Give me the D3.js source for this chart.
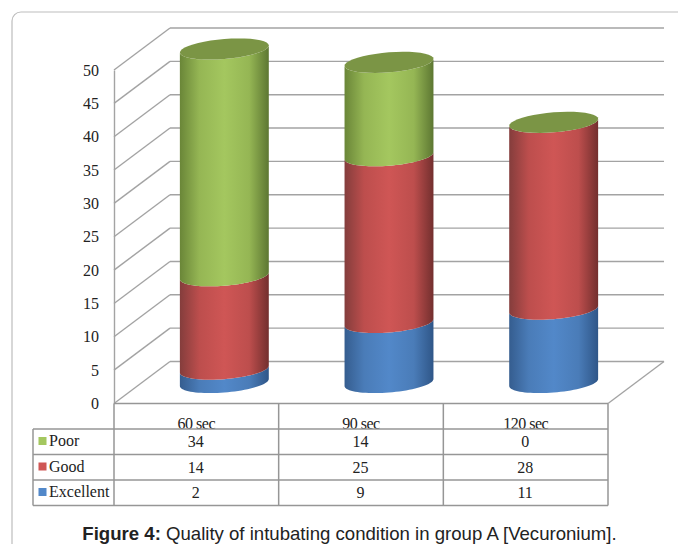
<!DOCTYPE html>
<html>
<head>
<meta charset="utf-8">
<script src="https://cdn.jsdelivr.net/npm/d3@7"></script>
<style>
  html, body { margin: 0; padding: 0; background: #fff; }
  svg { display: block; }
  .grid { stroke: #a3a3a3; stroke-width: 1.4; fill: none; }
  .table-line { stroke: #969696; stroke-width: 1.5; fill: none; }
  text { font-family: "Liberation Serif", serif; fill: #222; }
</style>
</head>
<body>
<div id="chart"></div>
<script>
var categories = ['60 sec', '90 sec', '120 sec'];
var excellent = [2, 9, 11];
var good = [14, 25, 28];
var poor = [34, 14, 0];
var yTicks = [0, 5, 10, 15, 20, 25, 30, 35, 40, 45, 50];

var seriesNames = ['Poor', 'Good', 'Excellent'];
var seriesValues = [poor, good, excellent];
var seriesColors = {
  Poor: ['#6a8638', '#a4c75f', '#5d7732', '#95b654'],
  Good: ['#843d3c', '#cf5655', '#732f2e', '#bd4e4d'],
  Excellent: ['#355d8f', '#5288c9', '#2f5688', '#4a7cb8']
};
var topColor = '#7b9545';

var width = 678;
var height = 544;
var depthX = 56;
var depthY = -42;
var rowTop = [429, 454.5, 480];
var rowHeight = 25.5;

var svg = d3.select('#chart').append('svg').attr('width', width).attr('height', height);

var x = d3.scaleBand().domain(categories).range([114, 608]);
var y = d3.scaleLinear().domain([0, 50]).range([403.5, 70]);

// Frame around the figure, open to the right and bottom
svg.append('path')
  .attr('d', 'M678,12H21a9,9 0 0 0 -9,9V544')
  .attr('fill', 'none')
  .attr('stroke', '#bdbdbd')
  .attr('stroke-width', 1.2);

var defs = svg.append('defs');
seriesNames.forEach(function(name) {
  var c = seriesColors[name];
  var grad = defs.append('linearGradient').attr('id', 'grad-' + name);
  grad.append('stop').attr('offset', '0%').attr('stop-color', c[0]);
  grad.append('stop').attr('offset', '22%').attr('stop-color', c[3]);
  grad.append('stop').attr('offset', '50%').attr('stop-color', c[1]);
  grad.append('stop').attr('offset', '78%').attr('stop-color', c[3]);
  grad.append('stop').attr('offset', '100%').attr('stop-color', c[2]);
});

// Walls and floor
var walls = svg.append('g');
walls.selectAll('.depth')
  .data(yTicks)
  .enter()
  .append('line')
  .attr('class', 'grid')
  .attr('x1', x.range()[0])
  .attr('x2', x.range()[0] + depthX)
  .attr('y1', d => y(d))
  .attr('y2', d => y(d) + depthY);
walls.selectAll('.back')
  .data(yTicks)
  .enter()
  .append('line')
  .attr('class', 'grid')
  .attr('x1', x.range()[0] + depthX)
  .attr('x2', x.range()[1] + depthX)
  .attr('y1', d => y(d) + depthY)
  .attr('y2', d => y(d) + depthY);
walls.append('line').attr('class', 'grid')
  .attr('x1', x.range()[1]).attr('y1', y(0))
  .attr('x2', x.range()[1] + depthX).attr('y2', y(0) + depthY);

// y axis labels
var yAxis = d3.axisLeft(y).tickValues(yTicks).tickSize(0).tickPadding(15);
var yAxisGroup = svg.append('g')
  .attr('transform', 'translate(' + x.range()[0] + ',0)')
  .call(yAxis);
yAxisGroup.select('.domain').attr('stroke', '#a3a3a3').attr('stroke-width', 1.4);
yAxisGroup.selectAll('text')
  .attr('font-family', '"Liberation Serif", serif')
  .attr('font-size', 16)
  .attr('fill', '#222');

// Cylinders
var rx = x.bandwidth() * 0.27;
var ry = 10;
var tilt = 3.5;
var line = d3.line();

function rimPoint(cx, cy, t) {
  return [cx + rx * Math.cos(t), cy + ry * Math.sin(t) - tilt * Math.cos(t)];
}

function frontArc(cx, cy, from, to) {
  return d3.range(0, 41).map(function(i) {
    return rimPoint(cx, cy, from + (to - from) * i / 40);
  });
}

var stackOrder = ['Excellent', 'Good', 'Poor'];
categories.forEach(function(cat, i) {
  var cx = x(cat) + x.bandwidth() / 2 + depthX / 2;
  var base = 0;
  stackOrder.forEach(function(name) {
    var v = seriesValues[seriesNames.indexOf(name)][i];
    if (v > 0) {
      var y0 = y(base) + depthY / 2;
      var y1 = y(base + v) + depthY / 2;
      var pts = frontArc(cx, y0, 0, Math.PI).concat(frontArc(cx, y1, Math.PI, 0));
      svg.append('path')
        .attr('d', line(pts) + 'Z')
        .attr('fill', 'url(#grad-' + name + ')');
    }
    base += v;
  });
  svg.append('path')
    .attr('d', line(frontArc(cx, y(base) + depthY / 2, 0, Math.PI * 2)) + 'Z')
    .attr('fill', topColor);
});

// Data table
var tableLeft = 33;
var tableBottom = rowTop[2] + rowHeight;
var table = svg.append('g');

table.selectAll('.cat')
  .data(categories)
  .enter()
  .append('text')
  .attr('x', d => x(d) + x.bandwidth() / 2)
  .attr('y', 429)
  .attr('text-anchor', 'middle')
  .attr('font-size', 16)
  .attr('letter-spacing', -0.5)
  .text(d => d);

table.append('line').attr('class', 'table-line')
  .attr('x1', x.range()[0]).attr('x2', x.range()[1])
  .attr('y1', y(0)).attr('y2', y(0));
rowTop.concat([tableBottom]).forEach(function(ry0) {
  table.append('line').attr('class', 'table-line')
    .attr('x1', tableLeft).attr('x2', x.range()[1])
    .attr('y1', ry0).attr('y2', ry0);
});
table.append('line').attr('class', 'table-line')
  .attr('x1', tableLeft).attr('x2', tableLeft)
  .attr('y1', rowTop[0]).attr('y2', tableBottom);
categories.concat(['end']).forEach(function(cat, i) {
  var cx = x.range()[0] + x.step() * i;
  table.append('line').attr('class', 'table-line')
    .attr('x1', cx).attr('x2', cx)
    .attr('y1', y(0)).attr('y2', tableBottom);
});

seriesNames.forEach(function(name, r) {
  table.append('rect')
    .attr('x', 38.5)
    .attr('y', rowTop[r] + 8)
    .attr('width', 8)
    .attr('height', 8)
    .attr('fill', seriesColors[name][1]);
  table.append('text')
    .attr('x', 49)
    .attr('y', rowTop[r] + 17)
    .attr('font-size', 16)
    .text(name);
  table.selectAll('.val-' + r)
    .data(seriesValues[r])
    .enter()
    .append('text')
    .attr('x', (d, i) => x(categories[i]) + x.bandwidth() / 2 - 0.5)
    .attr('y', rowTop[r] + 18)
    .attr('text-anchor', 'middle')
    .attr('font-size', 16)
    .text(d => d);
});

// Caption
var caption = svg.append('text')
  .attr('x', 349.5)
  .attr('y', 540)
  .attr('text-anchor', 'middle')
  .style('font-family', '"Liberation Sans", Arial, sans-serif')
  .attr('font-size', 18.6);
caption.append('tspan').attr('font-weight', 'bold').text('Figure 4:');
caption.append('tspan').text(' Quality of intubating condition in group A [Vecuronium].');
</script>
</body>
</html>
